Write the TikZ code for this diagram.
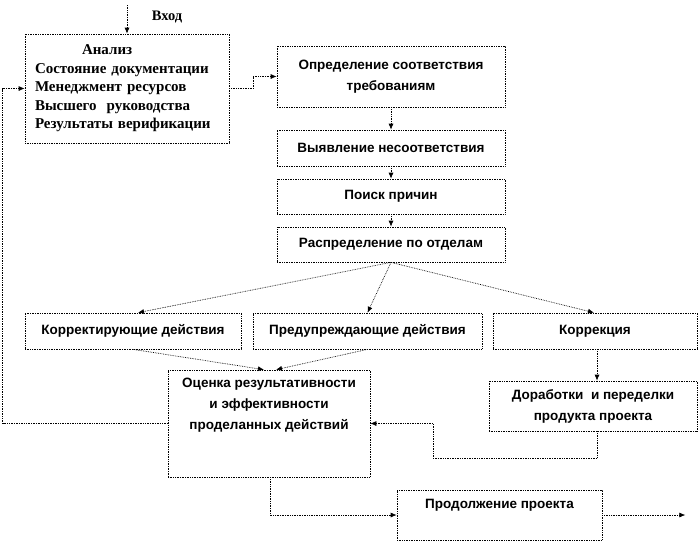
\documentclass[tikz,border=0pt]{standalone}
\usepackage{fontspec}
\setmainfont{Liberation Serif}
\setsansfont{Liberation Sans}
\usepackage{tikz}
\usetikzlibrary{arrows.meta}

\begin{document}
\begin{tikzpicture}[x=1pt, y=-1pt,
    blok/.style = {draw = black!100, densely dotted, line width = 0.7pt, inner sep = 2pt, align = center,
                   font = \sffamily\bfseries\fontsize{13.5}{21}\selectfont},
    strelka/.style = {color = black!100, densely dotted, line width = 0.7pt, -{Latex[length = 6pt, width = 5pt]}}]

    \useasboundingbox (0, 0) rectangle (700, 542);
    \def\w{228pt}

    % analysis box and input
    \node[blok, minimum width = 204pt, minimum height = 109pt, inner xsep = 10pt, text width = 184pt, align = left,
          font = \rmfamily\bfseries\fontsize{15}{18.5}\selectfont] (analiz) at (127, 88.5)
        {\hspace*{47pt}Анализ\\Состояние документации\\Менеджмент ресурсов\\Высшего\ \ руководства\\Результаты верификации};
    \coordinate (vhod) at (127, 5);
    \node[font = \rmfamily\bfseries\fontsize{14.5}{16}\selectfont] (vhodtext) at (167, 17) {Вход};

    % central column
    \node[blok, minimum width = \w, minimum height = 61pt] (opred) at (391, 76.5) {Определение соответствия\\требованиям};
    \node[blok, minimum width = \w, minimum height = 36pt] (vyjav) at (391, 148) {Выявление несоответствия};
    \node[blok, minimum width = \w, minimum height = 35pt] (poisk) at (391, 196.5) {Поиск причин};
    \node[blok, minimum width = \w, minimum height = 35pt] (raspr) at (391, 244.5) {Распределение по отделам};

    % actions
    \node[blok, minimum width = 216pt, minimum height = 36pt] (korr) at (133, 331) {Корректирующие действия};
    \node[blok, minimum width = 229pt, minimum height = 36pt] (pred) at (367.5, 331) {Предупреждающие действия};
    \node[blok, minimum width = 204pt, minimum height = 36pt] (kcija) at (595, 331) {Коррекция};

    % evaluation
    \node[blok, minimum width = 202pt, minimum height = 107pt, text depth = 40pt] (ocenka) at (269, 423.5)
        {Оценка результативности\\и эффективности\\проделанных действий};
    \node[blok, minimum width = 208pt, minimum height = 50pt] (dorab) at (593, 406) {Доработки\ \ и переделки\\продукта проекта};
    \node[blok, minimum width = 205pt, minimum height = 50pt, text depth = 23pt] (prod) at (499.5, 515) {Продолжение проекта};

    \draw[strelka] (vhod) -- (analiz.north);
    \draw[strelka] (analiz.east) -- ++(24, 0) |- (opred.west);
    \draw[strelka] (opred) -- (vyjav);
    \draw[strelka] (vyjav) -- (poisk);
    \draw[strelka] (poisk) -- (raspr);

    \draw[strelka] (raspr.south) -- ([xshift = 5pt]korr.north);
    \draw[strelka] (raspr.south) -- (pred.north);
    \draw[strelka] (raspr.south) -- ([xshift = -1pt]kcija.north);

    \draw[strelka] (korr.south) -- ([xshift = -5pt]ocenka.north);
    \draw[strelka] (pred.south) -- ([xshift = 7pt]ocenka.north);
    \draw[strelka] ([xshift = 2pt]kcija.south) -- ([xshift = 4pt]dorab.north);

    \draw[strelka] ([xshift = 4pt]dorab.south) -- ++(0, 27) -| ([xshift = 63pt]ocenka.east) -- (ocenka.east);
    \draw[strelka] ([xshift = 1pt]ocenka.south) |- (prod.west);
    \draw[strelka] (prod.east) -- ++(83, 0);

    % back to analysis
    \draw[strelka] (ocenka.west) -- ++(-165, 0) |- (analiz.west);

\end{tikzpicture}
\end{document}
